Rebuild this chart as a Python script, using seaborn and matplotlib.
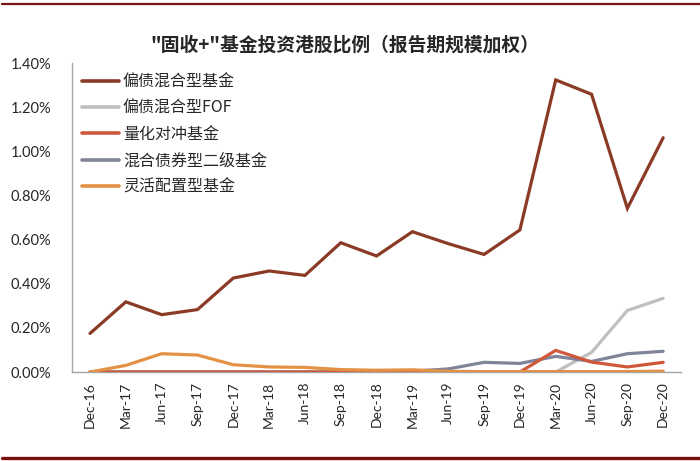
import numpy as np
import pandas as pd
import matplotlib
matplotlib.use("Agg")
import matplotlib.pyplot as plt
import seaborn as sns
from matplotlib.ticker import FuncFormatter, FixedLocator
from matplotlib.lines import Line2D

periods = ["Dec-16", "Mar-17", "Jun-17", "Sep-17", "Dec-17", "Mar-18", "Jun-18",
           "Sep-18", "Dec-18", "Mar-19", "Jun-19", "Sep-19", "Dec-19", "Mar-20",
           "Jun-20", "Sep-20", "Dec-20"]

# values in percent
pianzhai_hunhe = [0.175, 0.318, 0.260, 0.283, 0.426, 0.458, 0.438, 0.586, 0.526,
                  0.636, 0.582, 0.533, 0.644, 1.324, 1.259, 0.742, 1.062]
pianzhai_fof = [0, 0, 0, 0, 0, 0, 0, 0, 0, 0, 0, 0, 0, 0.0, 0.089, 0.279, 0.334]
lianghua = [0, 0, 0, 0, 0, 0, 0, 0, 0, 0, 0, 0, 0.0, 0.098, 0.045, 0.023, 0.044]
erji = [0, 0, 0, 0, 0, 0, 0, 0, 0, 0.004, 0.014, 0.044, 0.039, 0.071, 0.048, 0.083, 0.094]
linghuo = [0.0, 0.030, 0.083, 0.077, 0.033, 0.023, 0.021, 0.011, 0.008, 0.010,
           0.003, 0.002, 0.002, 0.002, 0.002, 0.002, 0.004]

names = ["偏债混合型基金", "偏债混合型FOF", "量化对冲基金", "混合债券型二级基金", "灵活配置型基金"]
colors = ["#8B3A26", "#BFBFBF", "#D0583A", "#7F8499", "#E39245"]

rows = []
for name, vals in zip(names, [pianzhai_hunhe, pianzhai_fof, lianghua, erji, linghuo]):
    for i, v in enumerate(vals):
        rows.append({"idx": i, "value": v, "series": name})
df = pd.DataFrame(rows)

sns.set_style("white")
cjk = ["Noto Sans CJK SC", "DejaVu Sans"]
plt.rcParams["font.family"] = cjk

fig = plt.figure(figsize=(7, 4.61), dpi=100)
ax = fig.add_axes([0.103, 0.193, 0.870, 0.670])

sns.lineplot(data=df, x="idx", y="value", hue="series", hue_order=names,
             palette=colors, linewidth=2.3, ax=ax, legend=False)
# main series on top
for ln, z in zip(ax.lines, [6, 2, 4, 3, 5]):
    ln.set_zorder(z)
    ln.set_solid_joinstyle("miter")

ax.set_xlim(-0.5, len(periods) - 0.5)
ax.set_ylim(0, 1.4)
ax.set_yticks(np.arange(0, 1.41, 0.2))
ax.yaxis.set_major_formatter(FuncFormatter(lambda v, p: f"{v:.2f}%"))
ax.set_xticks(range(len(periods)))
ax.set_xticklabels(periods, rotation=90, family=["Lato", "DejaVu Sans"], fontsize=10)
ax.xaxis.set_minor_locator(FixedLocator(np.arange(-0.5, len(periods), 1.0)))
ax.tick_params(axis="x", which="major", length=0, pad=7)
ax.tick_params(axis="x", which="minor", length=5, color="#A6A6A6", width=1, direction="out")
ax.tick_params(axis="y", length=0, pad=15)
for lab in ax.get_yticklabels():
    lab.set_family(["Lato", "DejaVu Sans"])
    lab.set_fontsize(10.5)

ax.set_xlabel("")
ax.set_ylabel("")
for s in ["top", "right"]:
    ax.spines[s].set_visible(False)
ax.spines["left"].set_color("#A6A6A6")
ax.spines["bottom"].set_color("#A6A6A6")
ax.spines["left"].set_linewidth(1)
ax.spines["bottom"].set_linewidth(1)

handles = [Line2D([0], [0], color=c, lw=2.6) for c in colors]
leg = ax.legend(handles, names, loc="upper left", bbox_to_anchor=(-0.007, 1.014),
                frameon=False, handlelength=2.3, handletextpad=0.25,
                labelspacing=0.59, prop={"family": cjk, "size": 11.5})

fig.text(0.493, 0.903, "\"固收+\"基金投资港股比例（报告期规模加权）",
         ha="center", va="center", fontsize=13.5, fontweight="bold", family=cjk)

# decorative border lines
fig.add_artist(Line2D([0.003, 1.0], [1 - 4.5 / 461, 1 - 4.5 / 461], color="#7A1515", lw=1.6))
fig.add_artist(Line2D([0.003, 1.0], [1 - 457.5 / 461, 1 - 457.5 / 461], color="#7A0F0F", lw=2.4))

fig.savefig("out.png", dpi=100)
